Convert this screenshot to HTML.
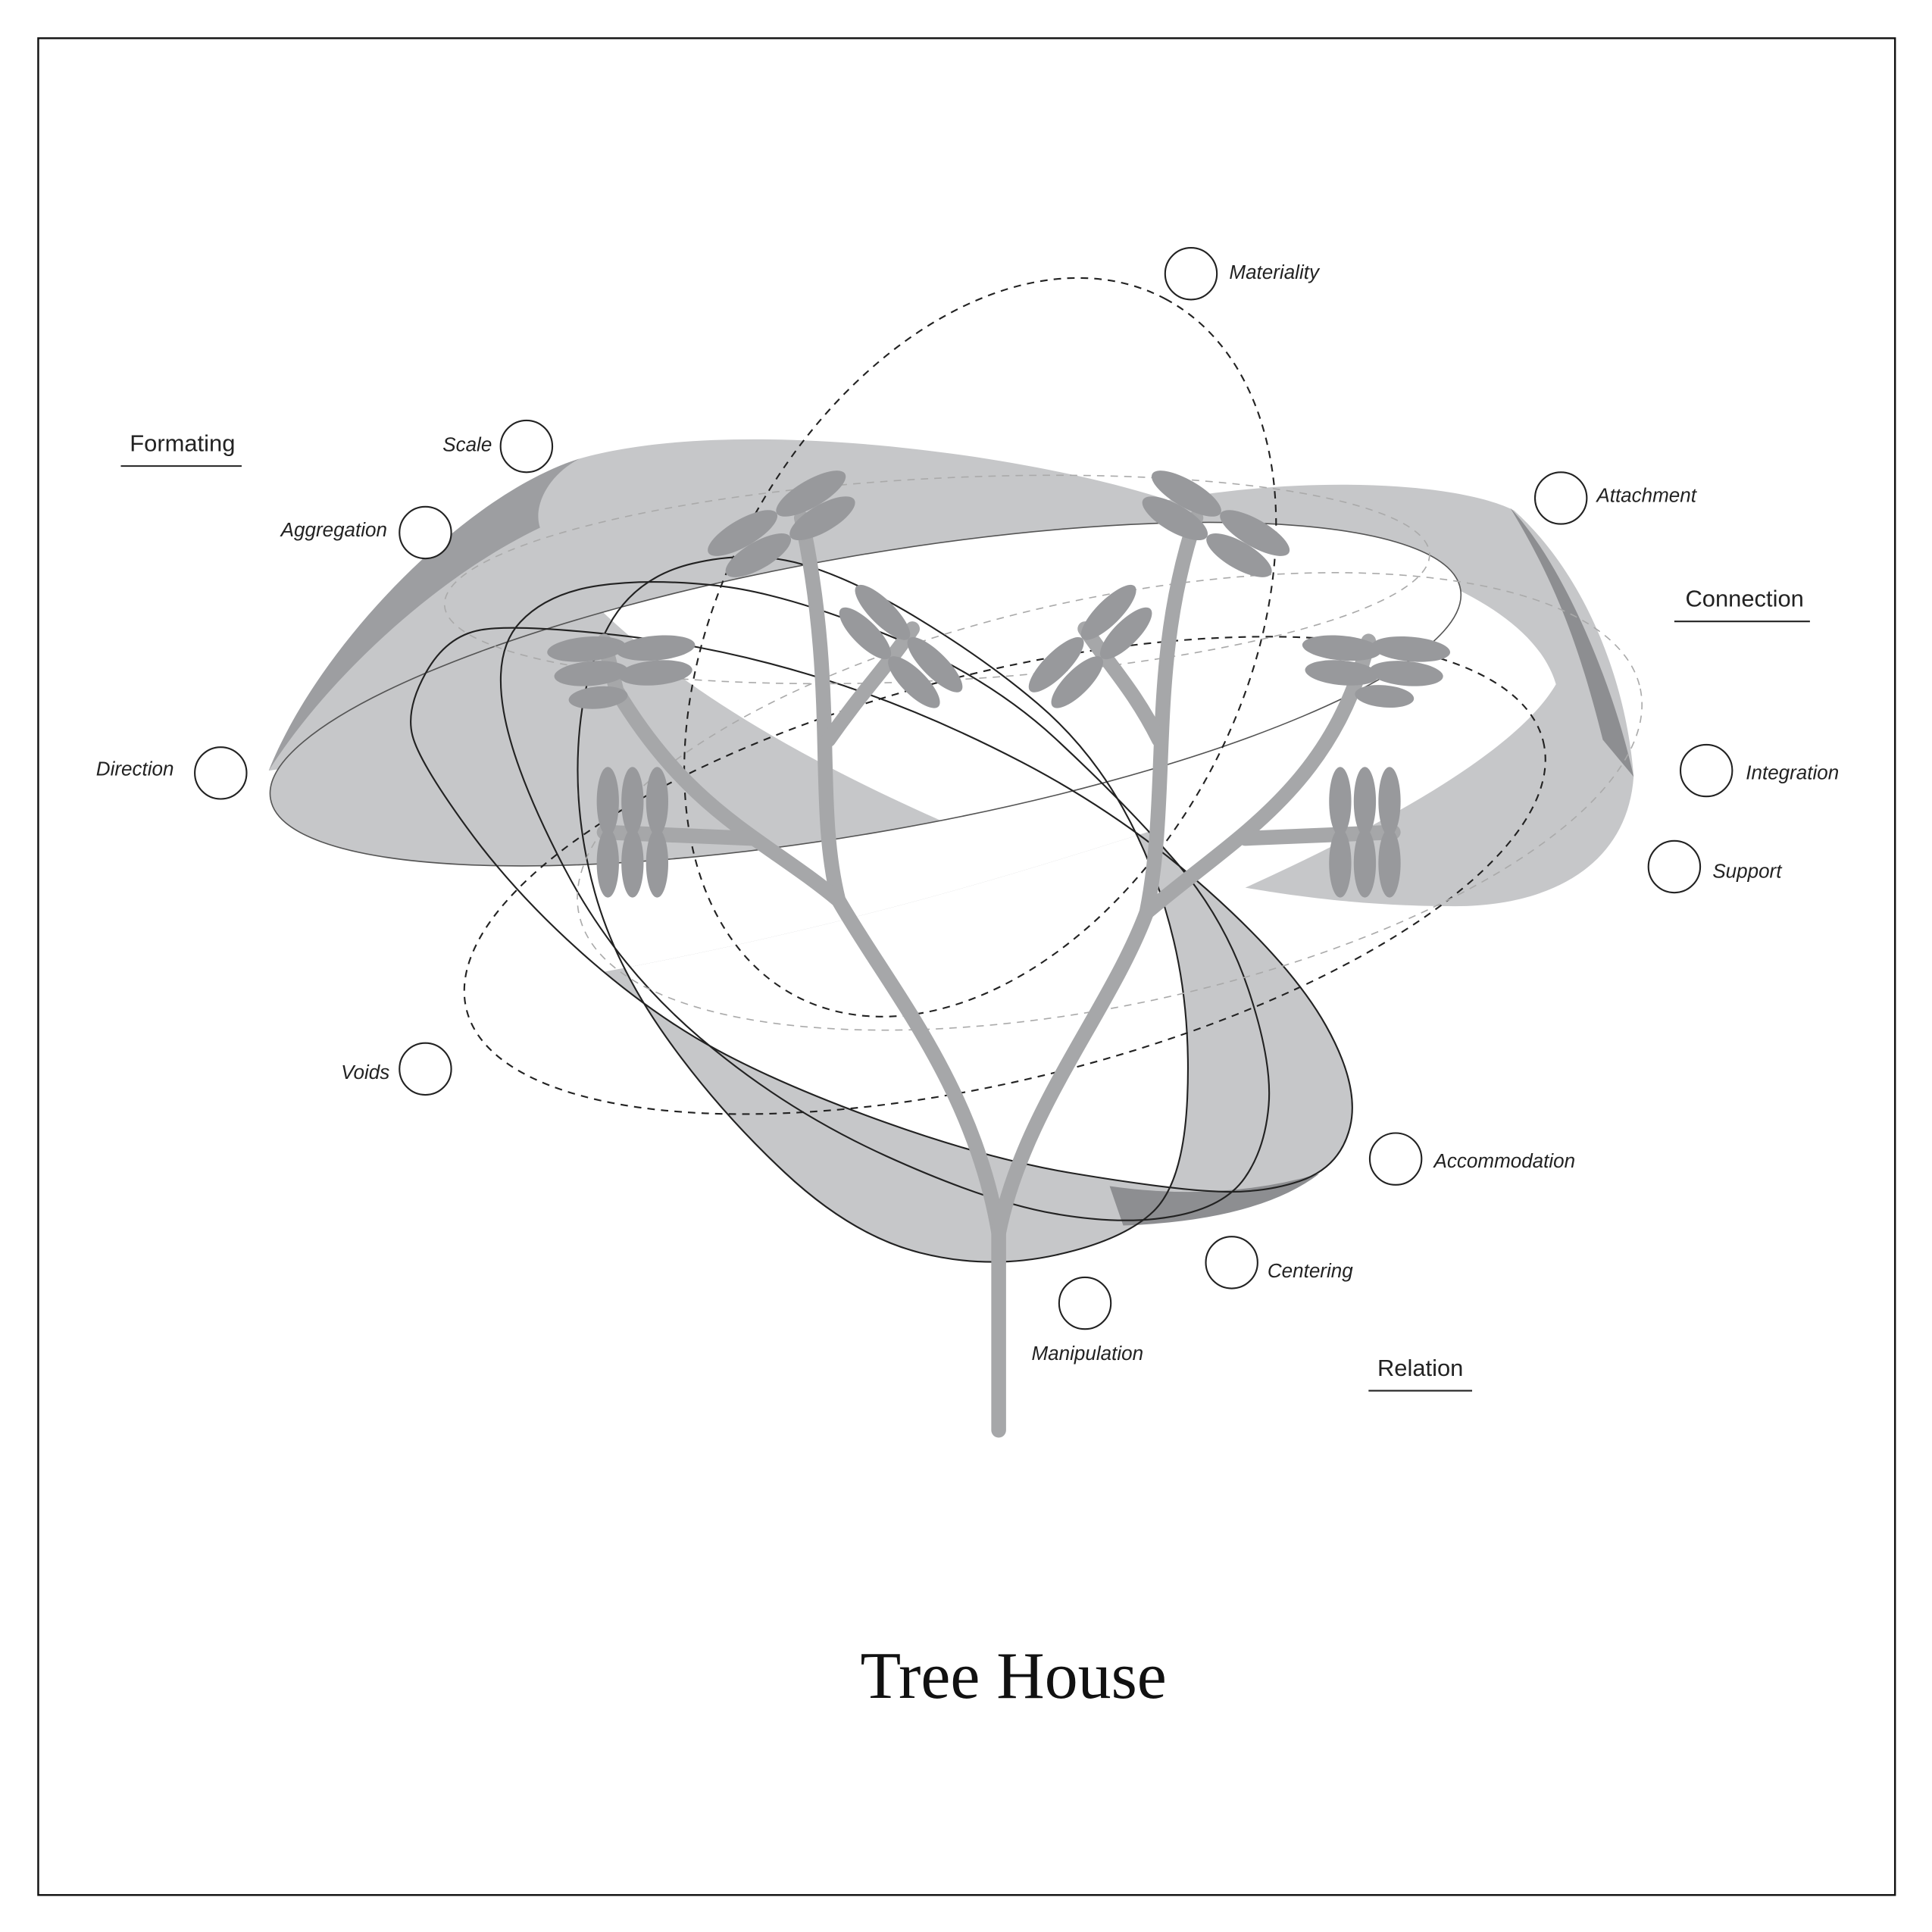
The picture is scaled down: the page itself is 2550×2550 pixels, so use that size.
<!DOCTYPE html>
<html><head><meta charset="utf-8"><style>
html,body{margin:0;padding:0;background:#fff}
svg{display:block}
.lb{font-family:"Liberation Sans",sans-serif;font-style:italic;font-size:16px;fill:#222}
.hd{font-family:"Liberation Sans",sans-serif;font-size:19px;fill:#222}
</style></head><body>
<svg width="2550" height="2550" viewBox="0 0 1567 1567" xmlns="http://www.w3.org/2000/svg">
<defs>
<clipPath id="thin"><ellipse cx="702" cy="563" rx="490" ry="112" transform="rotate(-10 702 563)"/></clipPath>
<clipPath id="lowband"><path d="M300,780 L480,790 C700,750 850,700 940,672 L1300,660 L1300,1200 L300,1200 Z"/></clipPath>
<path id="LA" d="M345.5,545.5 Q362,516 389.5,511 Q417,506 499.5,515 Q582,524 664,549.5 Q746,575 828.5,618 Q911,661 979.5,722 Q1048,783 1075.5,832 Q1103,881 1095,914 Q1087,947 1054,958 Q1021,969 979.5,966 Q938,963 869.5,951.5 Q801,940 718.5,910.5 Q636,881 581.5,851.5 Q527,822 472,773 Q417,724 378.5,671 Q340,618 334.5,596.5 Q329,575 345.5,545.5 Z"/>
<path id="LB" d="M422,504.5 Q444,481 485.5,475 Q527,469 581.5,475 Q636,481 718.5,514.5 Q801,548 856,599 Q911,650 952,697 Q993,744 1012.5,802.5 Q1032,861 1029,896.5 Q1026,932 1009.5,955.5 Q993,979 952,986.5 Q911,994 856,984.5 Q801,975 718.5,937.5 Q636,900 567.5,841.5 Q499,783 458,704.5 Q417,626 408.5,577 Q400,528 422,504.5 Z"/>
<path id="LC" d="M650,457.5 Q691,469 746,502.5 Q801,536 842,571 Q883,606 910.5,655 Q938,704 952,763 Q966,822 963,890.5 Q960,959 935.5,982.5 Q911,1006 856,1018 Q801,1030 746,1016 Q691,1002 636.5,951 Q582,900 540.5,841.5 Q499,783 482.5,724 Q466,665 469,606.5 Q472,548 493.5,508 Q515,468 562,457 Q609,446 650,457.5 Z"/>
<clipPath id="cC"><use href="#LC"/></clipPath>
</defs>
<rect x="31" y="31" width="1506" height="1506" fill="#fff" stroke="#111" stroke-width="1.5"/>
<!-- left ribbon outer band -->
<path d="M218,625 C260,520 380,400 470,372 C600,335 850,370 960,410 L1060,440 L700,560 Z" fill="#c6c7c9"/>
<path d="M218,625 C260,520 380,400 470,372 C445,385 432,410 438,428 C350,470 262,555 218,625 Z" fill="#9d9ea1"/>
<!-- right ribbon -->
<path d="M935,408 C1050,385 1180,390 1228,414 C1290,470 1320,560 1325,630 C1320,700 1260,735 1180,735 C1100,735 1040,725 1010,720 C1120,670 1230,610 1262,555 C1240,480 1100,440 1000,432 Z" fill="#c6c7c9"/>
<path d="M1225,412 C1270,460 1310,560 1325,630 L1300,600 C1280,520 1260,470 1225,412 Z" fill="#8d8e91"/>
<!-- thin ellipse interior -->
<ellipse cx="702" cy="563" rx="490" ry="112" transform="rotate(-10 702 563)" fill="#fff"/>
<path clip-path="url(#thin)" d="M150,300 L438,420 C455,470 490,500 540,540 C620,600 720,650 845,700 L150,800 Z" fill="#c6c7c9"/>
<ellipse cx="702" cy="563" rx="490" ry="112" transform="rotate(-10 702 563)" fill="none" stroke="#555" stroke-width="1"/>
<!-- bottom band -->
<g clip-path="url(#lowband)">
<g fill="#c6c7c9"><use href="#LA"/><use href="#LB"/><use href="#LC"/></g>
<g clip-path="url(#cC)"><use href="#LA" fill="#fff"/></g>
</g>
<path d="M900,962 Q990,975 1070,952 Q1020,990 911,994 Z" fill="#8d8e91"/>
<g fill="none" stroke="#222" stroke-width="1.3"><use href="#LA"/><use href="#LB"/><use href="#LC"/></g>
<!-- dashed -->
<g fill="none" stroke="#222" stroke-width="1.3" stroke-dasharray="6 5">
<ellipse cx="795" cy="525" rx="320" ry="212" transform="rotate(-62 795 525)"/>
<ellipse cx="815" cy="710" rx="450" ry="165" transform="rotate(-14 815 710)"/>
</g>
<g fill="none" stroke="#aaa" stroke-width="1" stroke-dasharray="6 5">
<ellipse cx="900" cy="650" rx="440" ry="165" transform="rotate(-12 900 650)"/>
<ellipse cx="760" cy="470" rx="400" ry="82" transform="rotate(-3 760 470)"/>
</g>
<!-- tree -->
<g fill="none" stroke="#a6a7a9" stroke-width="12" stroke-linecap="round">
<path d="M810,1160 L810,1000 C790,880 720,800 680,730 C660,650 680,560 650,420"/>
<path d="M810,1000 C830,900 900,820 930,740 C950,640 930,540 970,420"/>
<path d="M680,730 C620,680 560,660 500,560 L490,520"/>
<path d="M930,740 C1000,680 1080,640 1110,520"/>
<path d="M672,600 C700,560 720,540 740,510"/>
<path d="M940,600 C920,560 900,540 880,510"/>
<path d="M610,680 L490,675"/>
<path d="M1010,680 L1130,675"/>
</g>
<!-- dragonflies -->
<g fill="#98999c">
<g transform="translate(635,425) rotate(-30)"><ellipse cx="-32" cy="-10" rx="32" ry="11"/><ellipse cx="32" cy="-10" rx="32" ry="11"/><ellipse cx="-30" cy="12" rx="30" ry="11"/><ellipse cx="30" cy="12" rx="30" ry="11"/></g>
<g transform="translate(985,425) rotate(30)"><ellipse cx="-32" cy="-10" rx="32" ry="11"/><ellipse cx="32" cy="-10" rx="32" ry="11"/><ellipse cx="-30" cy="12" rx="30" ry="11"/><ellipse cx="30" cy="12" rx="30" ry="11"/></g>
<g transform="translate(505,540) rotate(-5)"><ellipse cx="-28" cy="-16" rx="32" ry="10"/><ellipse cx="28" cy="-12" rx="32" ry="10"/><ellipse cx="-26" cy="4" rx="30" ry="10"/><ellipse cx="26" cy="8" rx="30" ry="10"/><ellipse cx="-22" cy="24" rx="24" ry="9"/></g>
<g transform="translate(1115,540) rotate(5)"><ellipse cx="-28" cy="-12" rx="32" ry="10"/><ellipse cx="28" cy="-16" rx="32" ry="10"/><ellipse cx="-26" cy="8" rx="30" ry="10"/><ellipse cx="26" cy="4" rx="30" ry="10"/><ellipse cx="10" cy="24" rx="24" ry="9"/></g>
<g transform="translate(730,525) rotate(45)"><ellipse cx="-30" cy="-10" rx="30" ry="10"/><ellipse cx="30" cy="-10" rx="30" ry="10"/><ellipse cx="-28" cy="12" rx="28" ry="10"/><ellipse cx="28" cy="12" rx="28" ry="10"/></g>
<g transform="translate(885,525) rotate(-45)"><ellipse cx="-30" cy="-10" rx="30" ry="10"/><ellipse cx="30" cy="-10" rx="30" ry="10"/><ellipse cx="-28" cy="12" rx="28" ry="10"/><ellipse cx="28" cy="12" rx="28" ry="10"/></g>
<g transform="translate(513,675)"><ellipse cx="-20" cy="-25" rx="9" ry="28"/><ellipse cx="0" cy="-25" rx="9" ry="28"/><ellipse cx="20" cy="-25" rx="9" ry="28"/><ellipse cx="-20" cy="25" rx="9" ry="28"/><ellipse cx="0" cy="25" rx="9" ry="28"/><ellipse cx="20" cy="25" rx="9" ry="28"/></g>
<g transform="translate(1107,675)"><ellipse cx="-20" cy="-25" rx="9" ry="28"/><ellipse cx="0" cy="-25" rx="9" ry="28"/><ellipse cx="20" cy="-25" rx="9" ry="28"/><ellipse cx="-20" cy="25" rx="9" ry="28"/><ellipse cx="0" cy="25" rx="9" ry="28"/><ellipse cx="20" cy="25" rx="9" ry="28"/></g>
</g>
<!-- markers -->
<g fill="#fff" stroke="#222" stroke-width="1.3">
<circle cx="966" cy="222" r="21"/><circle cx="427" cy="362" r="21"/><circle cx="345" cy="432" r="21"/>
<circle cx="1266" cy="404" r="21"/><circle cx="179" cy="627" r="21"/><circle cx="1384" cy="625" r="21"/>
<circle cx="1358" cy="703" r="21"/><circle cx="345" cy="867" r="21"/><circle cx="1132" cy="940" r="21"/>
<circle cx="999" cy="1024" r="21"/><circle cx="880" cy="1057" r="21"/>
</g>
<text class="lb" x="997" y="226">Materiality</text>
<text class="lb" x="399" y="366" text-anchor="end">Scale</text>
<text class="lb" x="314" y="435" text-anchor="end">Aggregation</text>
<text class="lb" x="1295" y="407">Attachment</text>
<text class="lb" x="141" y="629" text-anchor="end">Direction</text>
<text class="lb" x="1416" y="632">Integration</text>
<text class="lb" x="1389" y="712">Support</text>
<text class="lb" x="316" y="875" text-anchor="end">Voids</text>
<text class="lb" x="1163" y="947">Accommodation</text>
<text class="lb" x="1028" y="1036">Centering</text>
<text class="lb" x="882" y="1103" text-anchor="middle">Manipulation</text>
<text class="hd" x="148" y="366" text-anchor="middle">Formating</text>
<line x1="98" y1="378" x2="196" y2="378" stroke="#222" stroke-width="1.3"/>
<text class="hd" x="1415" y="492" text-anchor="middle">Connection</text>
<line x1="1358" y1="504" x2="1468" y2="504" stroke="#222" stroke-width="1.3"/>
<text class="hd" x="1152" y="1116" text-anchor="middle">Relation</text>
<line x1="1110" y1="1128" x2="1194" y2="1128" stroke="#222" stroke-width="1.3"/>
<text x="822" y="1377" text-anchor="middle" font-family="Liberation Serif,serif" font-size="54" fill="#111">Tree House</text>
</svg>
</body></html>
